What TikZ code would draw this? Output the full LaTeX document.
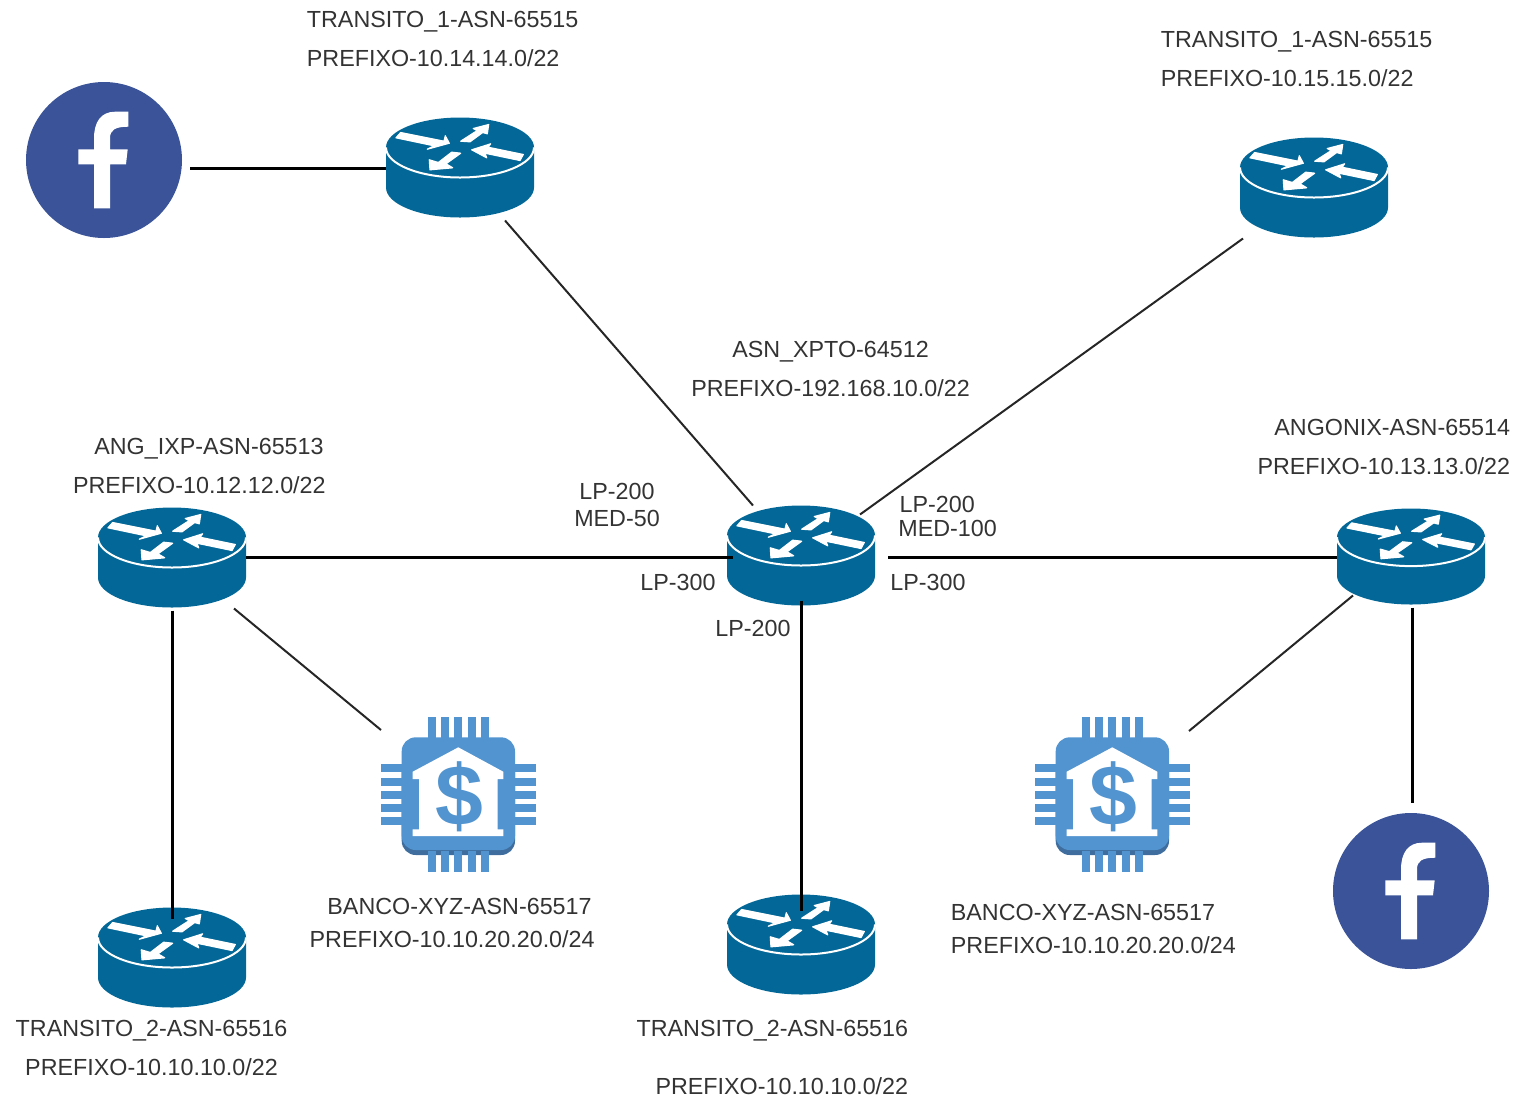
\documentclass[tikz,border=0pt]{standalone}
\usepackage{fontspec}
\setmainfont{Liberation Sans}
\usetikzlibrary{positioning,calc}
\definecolor{routerblue}{HTML}{036897}
\definecolor{bankblue}{HTML}{5294CF}
\definecolor{bankshade}{HTML}{3F6E9E}
\definecolor{fbblue}{HTML}{3B5499}
\definecolor{labelgray}{HTML}{333333}
\tikzset{
    iconbox/.style={inner sep=0pt, outer sep=0pt},
    link/.style={draw=black!85, line width=1pt},
    trunk/.style={draw=black, line width=1.5pt},
    asnlabel/.style={inner sep=0pt, text=labelgray, font=\fontsize{11.65}{19.5}\selectfont},
    lpair/.style={inner sep=0pt, text=labelgray, font=\fontsize{11.65}{12}\selectfont},
    flowarrow/.style={fill=white, draw=white, line width=0.6pt, line join=round},
    router/.pic={
        \node[iconbox, minimum width=74pt, minimum height=49pt] (-n) {};
        \fill[routerblue] (-74,-20) -- (-74,20) arc[start angle=180, end angle=0, x radius=74, y radius=30] -- (74,-20) -- cycle;
        \fill[routerblue] (0,-20) ellipse[x radius=74, y radius=30];
        \draw[white, line width=1pt] (-74,-20) arc[start angle=180, end angle=0, x radius=74, y radius=30];
        \path[flowarrow] (-59.3,-35) -- (-16,-26.3) -- (-14.7,-31.7) -- (-10.7,-24.3) -- (-32.7,-18.3) -- (-26,-21.7) -- (-64,-29.7) -- cycle;
        \path[flowarrow] (0.7,-26.3) -- (17.3,-37) -- (13.3,-39) -- (28.7,-43) -- (27.3,-33.7) -- (22.7,-35) -- (10,-25.7) -- cycle;
        \path[flowarrow] (11.7,-17.7) -- (30.7,-23.7) -- (28,-20.3) -- (63.3,-13) -- (60,-7) -- (25,-14.3) -- (26.7,-9.7) -- cycle;
        \path[flowarrow] (-30,2.3) -- (-30.7,-7.7) -- (-21.7,-5) -- (-8.3,-15.3) -- (0.7,-14.3) -- (-14,-3.7) -- (-7.3,0.3) -- cycle;
    },
    fbicon/.pic={
        \node[iconbox, circle, fill=fbblue, minimum size=78pt] (-n) {};
        \fill[white] (-10,48.3) -- (6,48.3) -- (6,4.3) -- (22,4.3) -- (23.7,-10.7) -- (6,-10.7) -- (6,-21.7)
            .. controls (6,-30) and (11,-33.3) .. (24.3,-33.3) -- (24.3,-48.3) -- (11,-48.3)
            .. controls (-3,-48.3) and (-10,-38) .. (-10,-21.7)
            -- (-10,-10.7) -- (-25.7,-10.7) -- (-25.7,4.3) -- (-10,4.3) -- cycle;
    },
    bankicon/.pic={
        \node[iconbox, minimum width=78pt, minimum height=78pt] (-n) {};
        \fill[bankshade, rounded corners=7pt] (-56.3,-40) rectangle (57,60);
        \fill[bankblue, rounded corners=7pt] (-56.3,-57.7) rectangle (57,55);
        \foreach \p in {-26,-12.7,0.3,13.7,27} {
            \fill[bankblue] (\p-4,-77.7) rectangle (\p+4,-50);
            \fill[bankblue] (\p-4,56) rectangle (\p+4,77.3);
        }
        \foreach \p in {-26.7,-13,0,13.3,26} {
            \fill[bankblue] (-77,\p-4) rectangle (-50,\p+4);
            \fill[bankblue] (50,\p-4) rectangle (78,\p+4);
        }
        \fill[white] (0.3,-47.7) -- (45.3,-23.3) -- (45.3,-16) -- (39.7,-16) -- (39.7,34.3) -- (45.3,34.3) -- (45.3,41)
            -- (-45.3,41) -- (-45.3,34.3) -- (-39,34.3) -- (-39,-16) -- (-45.3,-16) -- (-45.3,-23.3) -- cycle;
        \node[inner sep=0pt, text=bankblue, font=\fontsize{43}{43}\selectfont\bfseries] (-sign) at (1,2) {\$};
    }
}
\begin{document}
\begin{tikzpicture}[x=0.5pt, y=-0.5pt]
    \useasboundingbox (0,0) rectangle (1516,1099);

    % Routers
    \pic (trans1a) at (460,167.5) {router};
    \pic (trans1b) at (1314,187.5) {router};
    \pic (xpto) at (801,555.5) {router};
    \pic (angixp) at (172,557.5) {router};
    \pic[yscale=0.96] (angonix) at (1411,556.5) {router};
    \pic (trans2a) at (172,957.5) {router};
    \pic (trans2b) at (801,944.5) {router};

    % Icons
    \pic (fba) at (104,160) {fbicon};
    \pic (fbb) at (1411,891) {fbicon};
    \pic (banka) at (458,795) {bankicon};
    \pic (bankb) at (1112,795) {bankicon};

    % Connectors
    \draw[trunk] ([shift={(8,8)}]fba-n.east) -- ([shift={(0,0.5)}]trans1a-n.west);
    \draw[link] ([shift={(45,4)}]trans1a-n.south) -- ([shift={(-48,-1)}]xpto-n.north);
    \draw[link] ([shift={(-71,2)}]trans1b-n.south) -- ([shift={(59,8)}]xpto-n.north);
    \draw[trunk] (angixp-n.east) -- ([shift={(6,2)}]xpto-n.west);
    \draw[trunk] ([shift={(13,2)}]xpto-n.east) -- ([shift={(0,1)}]angonix-n.west);
    \draw[trunk] ([shift={(0,-4)}]xpto-n.south) -- ([shift={(0,15)}]trans2b-n.north);
    \draw[trunk] ([shift={(0,4)}]angixp-n.south) -- ([shift={(0,10)}]trans2a-n.north);
    \draw[link] ([shift={(62,2)}]angixp-n.south) -- ([shift={(-77,-65)}]banka-n.center);
    \draw[link] ([shift={(-58,-10)}]angonix-n.south) -- ([shift={(77,-64)}]bankb-n.center);
    \draw[trunk] ([shift={(1,2)}]angonix-n.south) -- ([shift={(1,-10)}]fbb-n.north);

    % Labels
    \node[asnlabel, align=left, anchor=west] (lbltrans1a) at (306.5,38.5) {TRANSITO\_1-ASN-65515\\PREFIXO-10.14.14.0/22};
    \node[asnlabel, align=left, anchor=west] (lbltrans1b) at (1160.5,58.5) {TRANSITO\_1-ASN-65515\\PREFIXO-10.15.15.0/22};
    \node[asnlabel, align=center] (lblxpto) at (830.5,368.5) {ASN\_XPTO-64512\\PREFIXO-192.168.10.0/22};
    \node[asnlabel, align=right, anchor=east] (lblangixp) at (326,465.5) {ANG\_IXP-ASN-65513\kern1pt\\PREFIXO-10.12.12.0/22};
    \node[asnlabel, align=right, anchor=east] (lblangonix) at (1510.5,446.5) {ANGONIX-ASN-65514\\PREFIXO-10.13.13.0/22};
    \node[asnlabel, align=center] (lbltrans2a) at (151.5,1047.5) {TRANSITO\_2-ASN-65516\\PREFIXO-10.10.10.0/22};
    \node[asnlabel, align=right, anchor=east, font=\fontsize{11.65}{29}\selectfont] (lbltrans2b) at (908.5,1057.5) {TRANSITO\_2-ASN-65516\\PREFIXO-10.10.10.0/22};
    \node[asnlabel, align=right, anchor=east, font=\fontsize{11.65}{16.5}\selectfont] (lblbanka) at (595,922.5) {BANCO-XYZ-ASN-65517\kern1.5pt\\PREFIXO-10.10.20.20.0/24};
    \node[asnlabel, align=left, anchor=west, font=\fontsize{11.65}{16.5}\selectfont] (lblbankb) at (950.5,928.5) {BANCO-XYZ-ASN-65517\\PREFIXO-10.10.20.20.0/24};

    % LP and MED values
    \node[lpair, align=center, font=\fontsize{11.65}{13.5}\selectfont] (lpa) at (617,504.5) {LP-200\\MED-50};
    \node[lpair, align=left, anchor=west] (lpb) at (898,516) {\hspace{0.6pt}LP-200\\MED-100};
    \node[lpair] (lpc) at (678,582) {LP-300};
    \node[lpair] (lpd) at (928,582) {LP-300};
    \node[lpair] (lpe) at (753,628) {LP-200};
\end{tikzpicture}
\end{document}
